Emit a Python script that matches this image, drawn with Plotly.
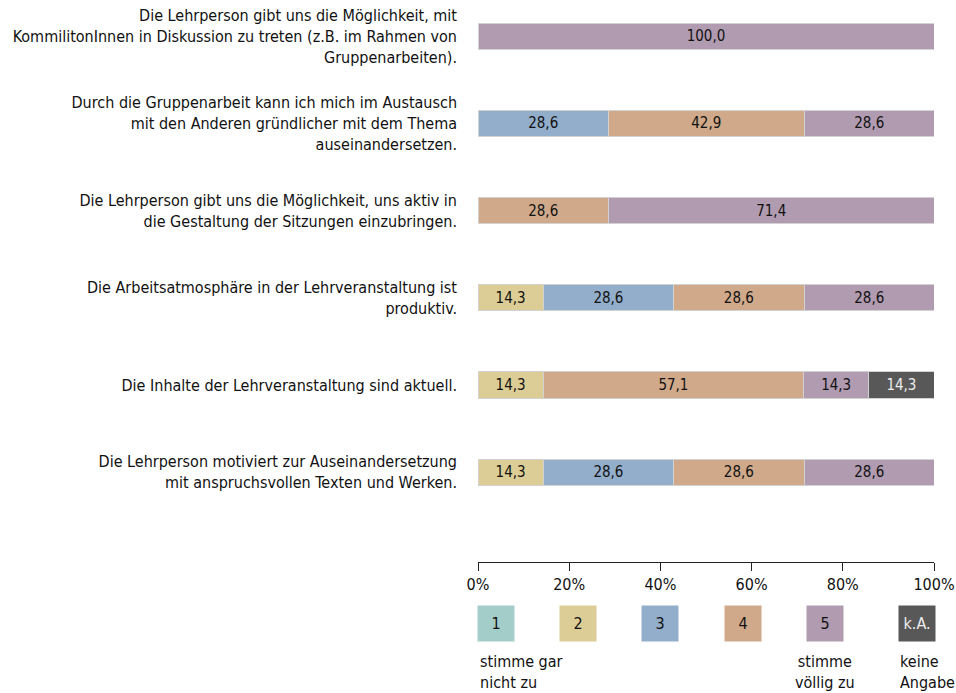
import plotly.graph_objects as go

items = [
    "Die Lehrperson gibt uns die Möglichkeit, mit<br>KommilitonInnen in Diskussion zu treten (z.B. im Rahmen von<br>Gruppenarbeiten).",
    "Durch die Gruppenarbeit kann ich mich im Austausch<br>mit den Anderen gründlicher mit dem Thema<br>auseinandersetzen.",
    "Die Lehrperson gibt uns die Möglichkeit, uns aktiv in<br>die Gestaltung der Sitzungen einzubringen.",
    "Die Arbeitsatmosphäre in der Lehrveranstaltung ist<br>produktiv.",
    "Die Inhalte der Lehrveranstaltung sind aktuell.",
    "Die Lehrperson motiviert zur Auseinandersetzung<br>mit anspruchsvollen Texten und Werken.",
]

series_names = ["1", "2", "3", "4", "5", "k.A."]
series_desc = ["stimme gar<br>nicht zu", "", "", "", "stimme<br>völlig zu", "keine<br>Angabe"]
series_colors = ["#a3cdc9", "#dccd96", "#92aecb", "#cfa98a", "#b19bb0", "#585858"]
series_textcolors = ["#111111", "#111111", "#111111", "#111111", "#111111", "#eeeeee"]

v1 = [None, None, None, None, None, None]
v2 = [None, None, None, 14.3, 14.3, 14.3]
v3 = [None, 28.6, None, 28.6, None, 28.6]
v4 = [None, 42.9, 28.6, 28.6, 57.1, 28.6]
v5 = [100.0, 28.6, 71.4, 28.6, 14.3, 28.6]
vka = [None, None, None, None, 14.3, None]
values = [v1, v2, v3, v4, v5, vka]

x_ticks = [0, 20, 40, 60, 80, 100]
x_ticktext = ["0%", "20%", "40%", "60%", "80%", "100%"]

FONT = "DejaVu Sans Condensed, Liberation Sans Narrow, sans-serif"
FS = 16
FS_BAR = 15

fig = go.Figure()
for name, vals, col, tcol in zip(series_names, values, series_colors, series_textcolors):
    fig.add_trace(go.Bar(
        y=items, x=vals, name=name, orientation="h",
        marker=dict(color=col, line=dict(color="#d2d2d2", width=1)),
        width=0.3,
        texttemplate="%{x:.1f}", textposition="inside",
        insidetextanchor="middle", textangle=0,
        textfont=dict(family=FONT, size=FS_BAR, color=tcol),
        showlegend=False,
    ))

# legend swatches built as annotations below the axis
leg_x = [0.04, 0.22, 0.40, 0.582, 0.762, 0.963]
for i, (name, col, tcol, desc) in enumerate(zip(series_names, series_colors, series_textcolors, series_desc)):
    fig.add_annotation(
        x=leg_x[i], y=-0.112, xref="paper", yref="paper",
        text=name, showarrow=False, bgcolor=col, width=36, height=35,
        borderpad=0, font=dict(family=FONT, size=FS, color=tcol),
        xanchor="center", yanchor="middle",
    )
    if desc:
        if i == 4:
            fig.add_annotation(
                x=leg_x[i], y=-0.16, xref="paper", yref="paper", text=desc,
                showarrow=False, align="center", xanchor="center", yanchor="top",
                font=dict(family=FONT, size=FS, color="#111111"),
            )
        else:
            fig.add_annotation(
                x=leg_x[i] - 0.041, y=-0.16, xref="paper", yref="paper", text=desc,
                showarrow=False, align="left", xanchor="left", yanchor="top",
                font=dict(family=FONT, size=FS, color="#111111"),
            )

fig.update_layout(
    barmode="stack",
    width=956, height=693,
    margin=dict(l=478, r=22, t=10, b=131),
    paper_bgcolor="white", plot_bgcolor="white",
    separators=",.",
    font=dict(family=FONT, size=FS, color="#111111"),
    xaxis=dict(
        range=[0, 100], tickvals=x_ticks, ticktext=x_ticktext, automargin=False,
        showgrid=False, zeroline=False, showline=True, linecolor="#222222", linewidth=1,
        ticks="outside", ticklen=8, tickcolor="#222222",
        tickfont=dict(family=FONT, size=FS, color="#111111"),
    ),
    yaxis=dict(
        categoryorder="array", categoryarray=items, automargin=False,
        range=[6.03, -0.30], showgrid=False, zeroline=False, showline=False,
        ticks="", ticklabelstandoff=20,
        tickfont=dict(family=FONT, size=FS, color="#111111"),
    ),
)

fig.write_html(
    "out.html",
    config={"displayModeBar": False},
    post_script="document.body.style.margin='0';document.body.style.overflow='hidden';",
)
